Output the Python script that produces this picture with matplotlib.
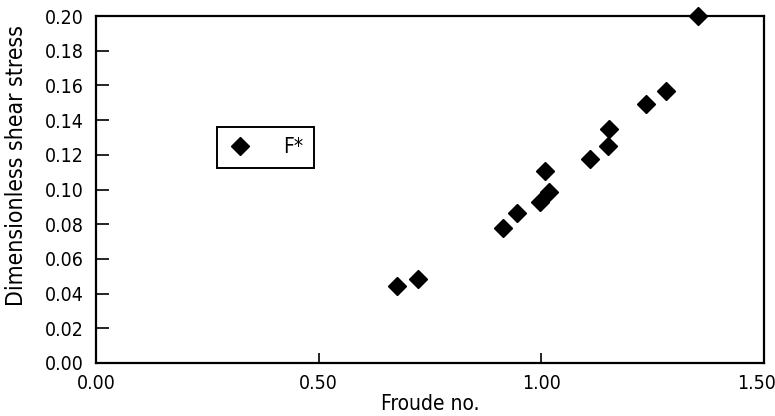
import matplotlib
matplotlib.use("Agg")
import matplotlib.pyplot as plt
from matplotlib.transforms import ScaledTranslation

plt.rcParams['font.family'] = ['DejaVu Sans']
plt.rcParams['font.stretch'] = 'condensed'

froude = [0.677, 0.722, 0.913, 0.945, 0.997, 1.017, 1.008, 1.110, 1.150, 1.153, 1.236, 1.281, 1.351]
shear = [0.0445, 0.0484, 0.078, 0.0866, 0.093, 0.0983, 0.1107, 0.1177, 0.125, 0.1347, 0.149, 0.157, 0.200]
xticks = [0.0, 0.5, 1.0, 1.5]
yticks = [0.00, 0.02, 0.04, 0.06, 0.08, 0.10, 0.12, 0.14, 0.16, 0.18, 0.20]

fig = plt.figure(figsize=(7.75, 4.16), dpi=100)
ax = fig.add_axes([96/775, 53/416, 668/775, 347/416])
ax.plot(froude, shear, linestyle='none', marker='D', markersize=9, color='black',
        clip_on=False, label='F*')
ax.set_xlim(0, 1.5)
ax.set_ylim(0, 0.2)
ax.set_xticks(xticks)
ax.set_xticklabels([f"{v:.2f}" for v in xticks])
ax.set_yticks(yticks)
ax.set_yticklabels([f"{v:.2f}" for v in yticks])
ax.tick_params(axis='both', direction='in', labelsize=14, width=1.2, colors='black')
ax.tick_params(axis='y', length=9, pad=9)
ax.tick_params(axis='x', length=7, pad=8)
for s in ax.spines.values():
    s.set_linewidth(1.6)
ax.set_xlabel("Froude no.", fontsize=15, labelpad=1)
ax.set_ylabel("Dimensionless shear stress", fontsize=16.5, labelpad=4)
ax.yaxis.set_label_coords(-0.102, 0.57)
leg = ax.legend(loc='upper left', bbox_to_anchor=(0.181, 0.680), borderaxespad=0,
                fancybox=False, edgecolor='black', fontsize=15, handletextpad=1.5,
                handlelength=1.2, borderpad=0.5, framealpha=1)
leg.get_frame().set_linewidth(1.4)

fig.canvas.draw()
last = ax.get_xticklabels()[-1]
last.set_transform(last.get_transform() + ScaledTranslation(-7/100, 0, fig.dpi_scale_trans))
fig.savefig("out.png", dpi=100)
